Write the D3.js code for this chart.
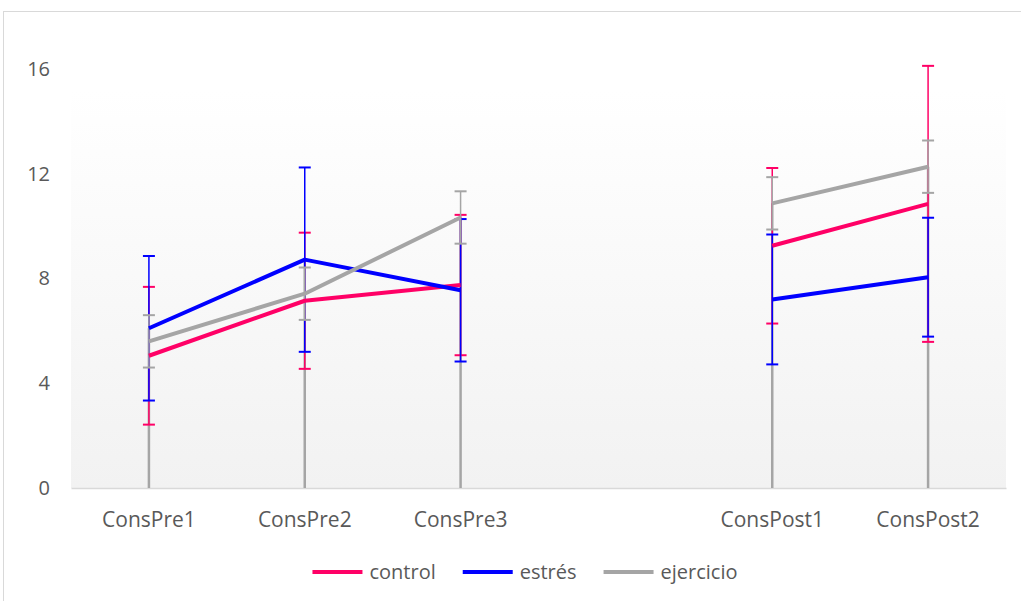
<!DOCTYPE html>
<html>
<head>
<meta charset="utf-8">
<script src="https://cdn.jsdelivr.net/npm/d3@7"></script>
<style>
  body { margin: 0; background: #fff; }
  text { font-family: 'Open Sans', sans-serif; fill: #595959; }
</style>
</head>
<body>
<div id="chart"></div>
<script>
// categories (the blank one is the gap between Pre and Post)
const categories = ['ConsPre1', 'ConsPre2', 'ConsPre3', ' ', 'ConsPost1', 'ConsPost2']
const yTicks = [0, 4, 8, 12, 16]

const control = [5.05, 7.15, 7.75, null, 9.25, 10.85]
const controlErr = [2.63, 2.6, 2.68, null, 2.97, 5.27]
const estres = [6.1, 8.72, 7.55, null, 7.2, 8.05]
const estresErr = [2.76, 3.52, 2.72, null, 2.48, 2.27]
const ejercicio = [5.6, 7.42, 10.33, null, 10.87, 12.27]
const ejercicioErr = [1.0, 1.0, 1.0, null, 1.0, 1.0]

const seriesNames = ['control', 'estrés', 'ejercicio']
const seriesColors = ['#ff0066', '#0000ff', '#a5a5a5']

const width = 1021
const height = 601
const plot = { left: 71, right: 1006, top: 90, bottom: 488 }

const series = [
  { name: seriesNames[0], color: seriesColors[0], values: control, err: controlErr },
  { name: seriesNames[1], color: seriesColors[1], values: estres, err: estresErr },
  { name: seriesNames[2], color: seriesColors[2], values: ejercicio, err: ejercicioErr }
]

const svg = d3.select('#chart')
  .append('svg')
    .attr('width', width)
    .attr('height', height)

// outer chart border
svg.append('rect')
  .attr('x', 3.5)
  .attr('y', 11.5)
  .attr('width', width + 10)
  .attr('height', height + 10)
  .attr('fill', '#fff')
  .attr('stroke', '#d9d9d9')

const grad = svg.append('defs').append('linearGradient')
  .attr('id', 'bg')
  .attr('x1', 0).attr('y1', 0).attr('x2', 0).attr('y2', 1)
grad.append('stop').attr('offset', '0%').attr('stop-color', '#ffffff')
grad.append('stop').attr('offset', '100%').attr('stop-color', '#f2f2f2')

svg.append('rect')
  .attr('x', plot.left)
  .attr('y', plot.top)
  .attr('width', plot.right - plot.left)
  .attr('height', plot.bottom - plot.top)
  .attr('fill', 'url(#bg)')

const xScale = d3.scaleBand()
  .domain(categories)
  .range([plot.left, plot.right])

const yScale = d3.scaleLinear()
  .domain([0, 16])
  .range([plot.bottom, 69])

const cx = c => xScale(c) + xScale.bandwidth() / 2

// y axis (labels only)
const yAxis = d3.axisLeft(yScale).tickValues(yTicks).tickSize(0).tickPadding(0)
svg.append('g')
  .attr('transform', `translate(50, 0)`)
  .call(yAxis)
  .call(g => g.select('.domain').remove())
  .selectAll('text')
    .attr('font-size', 20)
    .attr('font-family', "'Open Sans', sans-serif")
    .attr('fill', '#595959')

// x axis
const xAxis = d3.axisBottom(xScale).tickSize(0).tickPadding(24)
svg.append('g')
  .attr('transform', `translate(0, ${plot.bottom})`)
  .call(xAxis)
  .call(g => g.select('.domain').attr('stroke', '#d9d9d9').attr('stroke-width', 1.5))
  .selectAll('text')
    .attr('font-size', 21)
    .attr('font-family', "'Open Sans', sans-serif")
    .attr('fill', '#595959')

// drop lines from the highest point to the axis
const dropData = categories.map((c, i) => {
  const vals = series.map(s => s.values[i]).filter(v => v != null)
  return vals.length ? { c: c, top: d3.max(vals) } : null
}).filter(d => d)

svg.append('g').selectAll('line')
  .data(dropData).enter().append('line')
    .attr('x1', d => cx(d.c))
    .attr('x2', d => cx(d.c))
    .attr('y1', d => yScale(d.top))
    .attr('y2', plot.bottom)
    .attr('stroke', '#a5a5a5')
    .attr('stroke-width', 2.5)

// error bars
series.forEach(s => {
  const pts = categories.map((c, i) => ({ c: c, v: s.values[i], e: s.err[i] })).filter(d => d.v != null)
  const g = svg.append('g').attr('class', 'err')
  g.selectAll('.stem').data(pts).enter().append('line')
    .attr('x1', d => cx(d.c)).attr('x2', d => cx(d.c))
    .attr('y1', d => yScale(d.v + d.e)).attr('y2', d => yScale(d.v - d.e))
    .attr('stroke', s.color).attr('stroke-width', 1.5)
  g.selectAll('.capTop').data(pts).enter().append('line')
    .attr('x1', d => cx(d.c) - 6).attr('x2', d => cx(d.c) + 6)
    .attr('y1', d => yScale(d.v + d.e)).attr('y2', d => yScale(d.v + d.e))
    .attr('stroke', s.color).attr('stroke-width', 2)
  g.selectAll('.capBot').data(pts).enter().append('line')
    .attr('x1', d => cx(d.c) - 6).attr('x2', d => cx(d.c) + 6)
    .attr('y1', d => yScale(d.v - d.e)).attr('y2', d => yScale(d.v - d.e))
    .attr('stroke', s.color).attr('stroke-width', 2)
})

// series lines
const line = d3.line()
  .defined(d => d.v != null)
  .x(d => cx(d.c))
  .y(d => yScale(d.v))

series.forEach(s => {
  const pts = categories.map((c, i) => ({ c: c, v: s.values[i] }))
  svg.append('path')
    .datum(pts)
    .attr('d', line)
    .attr('fill', 'none')
    .attr('stroke', s.color)
    .attr('stroke-width', 4)
    .attr('stroke-linejoin', 'round')
})

// legend
const legend = svg.append('g').attr('id', 'legend')
let lx = 0
series.forEach(s => {
  const item = legend.append('g').attr('transform', `translate(${lx}, 0)`)
  item.append('line')
    .attr('x1', 0).attr('x2', 50)
    .attr('y1', 0).attr('y2', 0)
    .attr('stroke', s.color)
    .attr('stroke-width', 4)
  const t = item.append('text')
    .text(s.name)
    .attr('x', 57)
    .attr('y', 7)
    .attr('font-size', 20)
  lx += 57 + t.node().getComputedTextLength() + 27
})
const legendW = lx - 27
legend.attr('transform', `translate(${525 - legendW / 2}, 572)`)
</script>
</body>
</html>
